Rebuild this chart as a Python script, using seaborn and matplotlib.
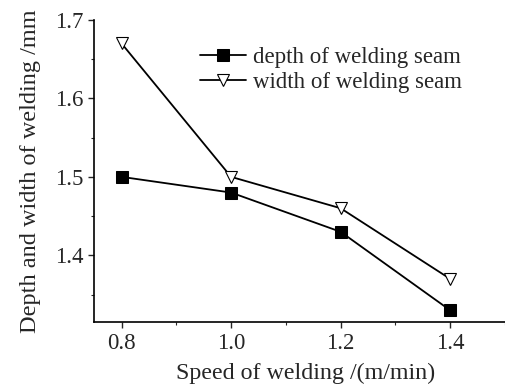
import matplotlib
matplotlib.use('Agg')
import matplotlib.pyplot as plt
import seaborn as sns
import pandas as pd
from matplotlib.ticker import MultipleLocator

# Data
speed = [0.8, 1.0, 1.2, 1.4]
depth = [1.50, 1.48, 1.43, 1.33]
width = [1.67, 1.50, 1.46, 1.37]

df = pd.DataFrame({
    'speed': speed * 2,
    'value': depth + width,
    'series': ['depth of welding seam'] * 4 + ['width of welding seam'] * 4,
})

sns.set_style('ticks')
plt.rcParams['font.family'] = ['Liberation Serif', 'DejaVu Serif']

fig = plt.figure(figsize=(5.06, 3.89), dpi=100)
ax = fig.add_axes([0.186, 0.172, 0.812, 0.777])

sns.lineplot(data=df, x='speed', y='value', hue='series', style='series',
             markers={'depth of welding seam': 's', 'width of welding seam': 'v'},
             dashes=False, palette=['black', 'black'], ax=ax, linewidth=1.3,
             markersize=9)

# marker faces: filled squares, hollow triangles
for line in ax.lines:
    if line.get_marker() == 'v':
        line.set_markerfacecolor('white')
        line.set_markeredgecolor('black')
        line.set_markeredgewidth(0.8)
    else:
        line.set_markerfacecolor('black')
        line.set_markeredgecolor('black')

ax.set_xlim(0.75, 1.5)
ax.set_ylim(1.315, 1.7)
ax.xaxis.set_minor_locator(MultipleLocator(0.1))
ax.yaxis.set_minor_locator(MultipleLocator(0.05))
ax.set_xticks([0.8, 1.0, 1.2, 1.4])
ax.set_xticklabels(['0.8', '1.0', '1.2', '1.4'])
ax.set_yticks([1.4, 1.5, 1.6, 1.7])
ax.set_yticklabels(['1.4', '1.5', '1.6', '1.7'])
ax.tick_params(axis='both', which='major', labelsize=16.5, length=4, width=1, direction='out')
ax.tick_params(axis='both', which='minor', length=2, width=0.8, direction='out')

for side in ['top', 'right']:
    ax.spines[side].set_visible(False)
for side in ['left', 'bottom']:
    ax.spines[side].set_linewidth(1.2)
    ax.spines[side].set_color('black')

ax.set_xlabel('Speed of welding /(m/min)', fontsize=17.3, labelpad=8)
ax.xaxis.set_label_coords(0.515, -0.135)
ax.set_ylabel('Depth and width of welding /mm', fontsize=17.5, labelpad=10)

handles, labels = ax.get_legend_handles_labels()
ax.legend(handles, labels, loc='upper left', bbox_to_anchor=(0.235, 0.94),
          frameon=False, fontsize=16.5, handlelength=2.0, handletextpad=0.3,
          labelspacing=0.15, borderaxespad=0)

fig.savefig('out.png', dpi=100)
